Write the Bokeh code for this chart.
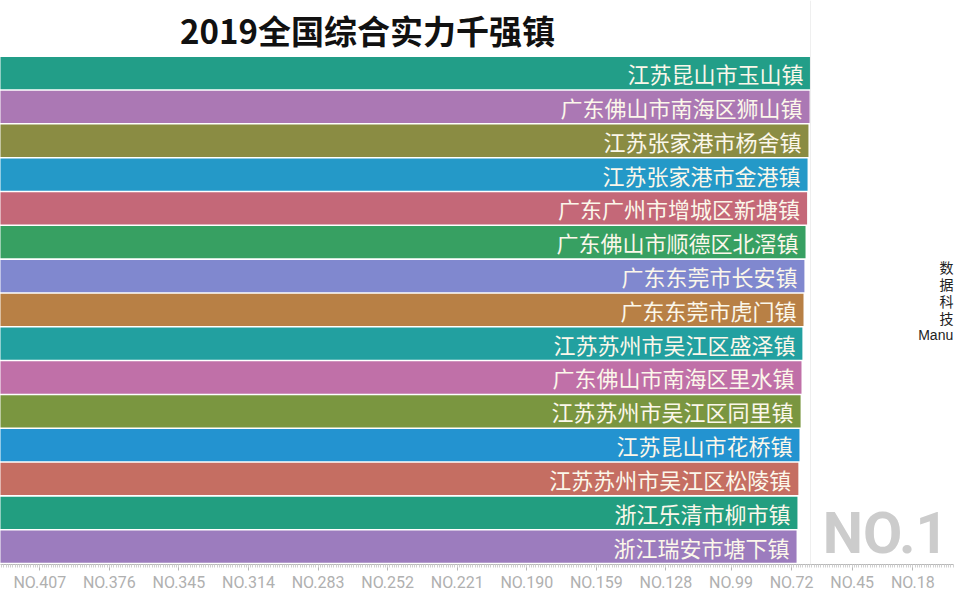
from bokeh.plotting import figure
from bokeh.models import Range1d, FixedTicker, Span, Label, ColumnDataSource
from bokeh.core.properties import value
from bokeh.embed import file_html
from bokeh.resources import INLINE

# ---------------- data ----------------
title_text = "2019全国综合实力千强镇"
towns = [
    "江苏昆山市玉山镇",
    "广东佛山市南海区狮山镇",
    "江苏张家港市杨舍镇",
    "江苏张家港市金港镇",
    "广东广州市增城区新塘镇",
    "广东佛山市顺德区北滘镇",
    "广东东莞市长安镇",
    "广东东莞市虎门镇",
    "江苏苏州市吴江区盛泽镇",
    "广东佛山市南海区里水镇",
    "江苏苏州市吴江区同里镇",
    "江苏昆山市花桥镇",
    "江苏苏州市吴江区松陵镇",
    "浙江乐清市柳市镇",
    "浙江瑞安市塘下镇",
]
ranks = list(range(1, 16))
bar_values = [63.6, 64.0, 64.5, 64.9, 65.1, 65.8, 66.3, 66.7, 67.2, 67.6,
              68.0, 68.5, 69.0, 69.4, 69.8]
bar_colors = ["#229E88", "#AB78B4", "#8A8C43", "#2499C8", "#C46878",
              "#37A062", "#8088CF", "#B88045", "#22A0A0", "#C070A8",
              "#7A9640", "#2393D0", "#C56E62", "#229E80", "#9C7CBE"]
tick_values = [407, 376, 345, 314, 283, 252, 221, 190, 159, 128, 99, 72, 45, 18]
tick_labels = ["NO.%d" % t for t in tick_values]
current_rank_label = "NO.1"
watermark_cn = ["数", "据", "科", "技"]
watermark_en = "Manu"

# ---------------- figure ----------------
X_LEFT, X_RIGHT = 424.51, -1.47
BAR_BASE = 440

p = figure(width=956, height=594, output_backend="svg", toolbar_location=None,
           x_range=Range1d(X_LEFT, X_RIGHT), y_range=Range1d(0.4706, 17.147),
           y_axis_location=None, min_border_left=0, min_border_right=0,
           min_border_top=0, min_border_bottom=27)
p.outline_line_color = None
p.background_fill_color = "white"
p.border_fill_color = "white"
p.xgrid.visible = False
p.ygrid.visible = False

ys = [16 - r for r in ranks]
src = ColumnDataSource(dict(y=ys, left=bar_values, right=[BAR_BASE] * len(ys),
                            color=bar_colors, town=towns))

p.hbar(y="y", left="left", right="right", height=0.955, fill_color="color",
       line_color=None, source=src)

p.add_layout(Span(location=bar_values[0], dimension="height",
                  line_color="#efefef", line_width=1))

p.text(x="left", y="y", text="town", source=src, text_align="right",
       text_baseline="middle", x_offset=-7, y_offset=0,
       text_font=value("Noto Sans CJK SC"), text_font_size="22px",
       text_color="#fbf7ea")

# axis
ax = p.xaxis[0]
ax.ticker = FixedTicker(ticks=tick_values, minor_ticks=list(range(0, 426)))
ax.major_label_overrides = {t: l for t, l in zip(tick_values, tick_labels)}
ax.bounds = (0, 425)
ax.axis_line_color = "#b8b8b8"
ax.major_tick_line_color = "#b8b8b8"
ax.minor_tick_line_color = "#d0d0d0"
ax.major_tick_out = 6
ax.major_tick_in = 0
ax.minor_tick_out = 3
ax.minor_tick_in = 0
ax.major_label_text_color = "#b0b0b0"
ax.major_label_text_font = "Roboto"
ax.major_label_text_font_size = "16px"
ax.major_label_standoff = 2

# title
p.add_layout(Label(x=260.98, y=16.265, text=title_text, text_align="center",
                   text_baseline="middle", text_font="Noto Sans CJK SC",
                   text_font_size="33px", text_font_style="bold",
                   text_color="#111111"))

# big rank label
p.add_layout(Label(x=30.16, y=1.397, text=current_rank_label, text_align="center",
                   text_baseline="middle", text_font="Roboto",
                   text_font_size="57px", text_font_style="bold",
                   text_color="#cccccc"))

# watermark (vertical)
WM_TOP, WM_STEP = 9.265, 0.5
wm_y = [WM_TOP - WM_STEP * k for k in range(len(watermark_cn))]
p.text(x=[3.0] * len(watermark_cn), y=wm_y, text=watermark_cn, text_align="center",
       text_baseline="middle", text_font=value("Noto Sans CJK SC"),
       text_font_size="14px", text_color="#222222")
p.text(x=[0.0], y=[WM_TOP - WM_STEP * len(watermark_cn)], text=[watermark_en],
       text_align="right", text_baseline="middle", text_font=value("Liberation Sans"),
       text_font_size="14px", text_color="#222222")

open("out.html", "w").write(file_html(p, INLINE))
